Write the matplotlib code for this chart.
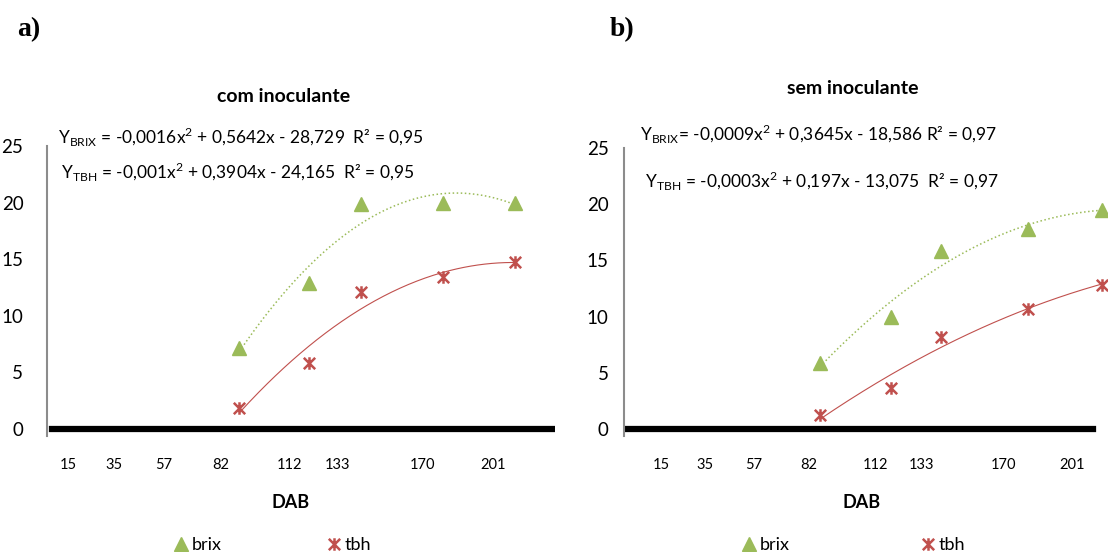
import numpy as np
import matplotlib
matplotlib.use("Agg")
import matplotlib.pyplot as plt
from matplotlib.path import Path
from matplotlib.lines import Line2D

plt.rcParams['font.family'] = ['Lato', 'DejaVu Sans']
plt.rcParams['mathtext.fontset'] = 'custom'
plt.rcParams['mathtext.rm'] = 'Lato'

# dias apos a brotacao (DAB) e leituras de brix / tbh
tick_dab = [15, 35, 57, 82, 112, 133, 170, 201]
tick_labels = [str(t) for t in tick_dab]

dab_com = [90, 120.5, 143, 179, 210.6]
brix_com = [7.2, 12.9, 19.9, 20.0, 20.0]
tbh_com = [1.85, 5.8, 12.1, 13.4, 14.75]

dab_sem = [87, 119, 141.7, 181, 214.5]
brix_sem = [5.9, 10.0, 15.8, 17.8, 19.5]
tbh_sem = [1.25, 3.6, 8.2, 10.7, 12.8]

eq_com = ["Y$_{\\mathregular{BRIX}}$ = -0,0016x$^{\\mathregular{2}}$ + 0,5642x - 28,729  R² = 0,95",
          "Y$_{\\mathregular{TBH}}$ = -0,001x$^{\\mathregular{2}}$ + 0,3904x - 24,165  R² = 0,95"]
eq_sem = ["Y$_{\\mathregular{BRIX}}$= -0,0009x$^{\\mathregular{2}}$ + 0,3645x - 18,586 R² = 0,97",
          "Y$_{\\mathregular{TBH}}$ = -0,0003x$^{\\mathregular{2}}$ + 0,197x - 13,075  R² = 0,97"]

GREEN = '#9bbb59'
RED = '#c0504d'

star = Path([(-1, -1), (1, 1), (-1, 1), (1, -1), (0, -1.1), (0, 1.1)],
            [Path.MOVETO, Path.LINETO, Path.MOVETO, Path.LINETO, Path.MOVETO, Path.LINETO])

W, H = 1108, 552
fig = plt.figure(figsize=(W / 100, H / 100), dpi=100)


def box(x0, x1, ytop, ybot):
    return [x0 / W, 1 - ybot / H, (x1 - x0) / W, (ybot - ytop) / H]


def trend(ax, x, y, color, ls, lw):
    c = np.polyfit(x, y, 2)
    xs = np.linspace(x[0], x[-1], 200)
    ax.plot(xs, np.polyval(c, xs), color=color, ls=ls, lw=lw, zorder=2)


def panel(rect, xlim, line_frac, dab, brix, tbh, ypad):
    ax = fig.add_axes(rect)
    ax.set_xlim(*xlim)
    ax.set_ylim(-0.6, 25)
    for s in ['top', 'right', 'bottom']:
        ax.spines[s].set_visible(False)
    ax.spines['left'].set_color('#8c8c8c')
    ax.spines['left'].set_linewidth(1.5)
    ax.axhline(0, xmin=line_frac[0], xmax=line_frac[1], color='black', lw=4.5, zorder=1)
    ax.set_yticks([0, 5, 10, 15, 20, 25])
    ax.tick_params(axis='y', length=0, labelsize=13.5, pad=ypad)
    ax.set_xticks(tick_dab)
    ax.set_xticklabels(tick_labels)
    ax.tick_params(axis='x', length=0, labelsize=10.5, pad=16)
    trend(ax, dab, brix, GREEN, ':', 1.1)
    trend(ax, dab, tbh, RED, '-', 0.8)
    ax.plot(dab, brix, ls='none', marker='^', ms=10, color=GREEN, zorder=3, clip_on=False)
    ax.plot(dab, tbh, ls='none', marker=star, ms=9, mew=1.8, color=RED, zorder=3, clip_on=False)
    return ax


# painel a) com inoculante
axa = panel(box(47, 555, 146, 435.8), (5.8, 228.1), (0.01, 1.0), dab_com, brix_com, tbh_com, 17)
# painel b) sem inoculante
axb = panel(box(624, 1108, 148, 435.7), (-1.7, 217.3), (0.005, 0.97), dab_sem, brix_sem, tbh_sem, 11)


def ftext(x, y, s, **kw):
    fig.text(x / W, 1 - y / H, s, **kw)


ftext(17, 30, 'a)', fontsize=20, fontweight='bold', family='Liberation Serif', va='center')
ftext(610, 30, 'b)', fontsize=20, fontweight='bold', family='Liberation Serif', va='center')

ftext(284, 96, 'com inoculante', fontsize=14, fontweight='bold', ha='center', va='center')
ftext(853, 89, 'sem inoculante', fontsize=14, fontweight='bold', ha='center', va='center')

ftext(58, 137, eq_com[0], fontsize=12.5, va='center')
ftext(61, 172, eq_com[1], fontsize=12.5, va='center')
ftext(640, 134, eq_sem[0], fontsize=12.5, va='center')
ftext(645, 181, eq_sem[1], fontsize=12.5, va='center')

ftext(291, 502, 'DAB', fontsize=13, fontweight='bold', ha='center', va='center')
ftext(862, 502, 'DAB', fontsize=13, fontweight='bold', ha='center', va='center')

handles = [Line2D([], [], ls='none', marker='^', ms=10, color=GREEN),
           Line2D([], [], ls='none', marker=star, ms=9, mew=1.8, color=RED)]
for x0, gap in ((174, 5.8), (742, 7.25)):
    fig.legend(handles, ['brix', 'tbh'], loc='center left',
               bbox_to_anchor=(x0 / W, 1 - 545 / H), ncol=2, frameon=False,
               fontsize=13, handlelength=0.8, handletextpad=0.2,
               columnspacing=gap, borderpad=0, borderaxespad=0)

fig.savefig('out.png', dpi=100)
